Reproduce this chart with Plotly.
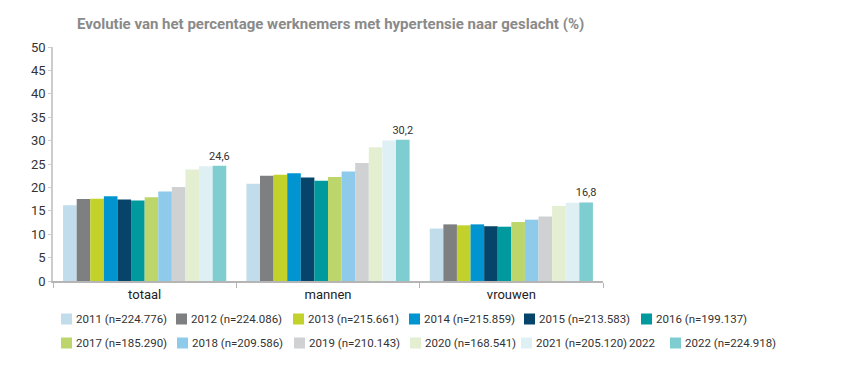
import plotly.graph_objects as go

categories = ["totaal", "mannen", "vrouwen"]
years = ["2011", "2012", "2013", "2014", "2015", "2016",
         "2017", "2018", "2019", "2020", "2021", "2022"]
legend_labels = ["2011 (n=224.776)", "2012 (n=224.086)", "2013 (n=215.661)",
                 "2014 (n=215.859)", "2015 (n=213.583)", "2016 (n=199.137)",
                 "2017 (n=185.290)", "2018 (n=209.586)", "2019 (n=210.143)",
                 "2020 (n=168.541)", "2021 (n=205.120)", "2022 (n=224.918)"]
colors = ["#c1dcea", "#7d7f81", "#c2d22b", "#0094d0", "#06446a", "#009a9e",
          "#bdd66c", "#8ecbea", "#d0d1d3", "#e3efd0", "#dff0f5", "#7ecdd0"]

v2011 = [16.2, 20.8, 11.2]
v2012 = [17.5, 22.5, 12.1]
v2013 = [17.6, 22.7, 11.9]
v2014 = [18.1, 23.0, 12.1]
v2015 = [17.4, 22.1, 11.7]
v2016 = [17.2, 21.4, 11.6]
v2017 = [17.9, 22.2, 12.6]
v2018 = [19.1, 23.4, 13.1]
v2019 = [20.1, 25.2, 13.8]
v2020 = [23.8, 28.6, 16.0]
v2021 = [24.5, 30.0, 16.7]
v2022 = [24.6, 30.2, 16.8]
series = [v2011, v2012, v2013, v2014, v2015, v2016,
          v2017, v2018, v2019, v2020, v2021, v2022]

title = "Evolutie van het percentage werknemers met hypertensie naar geslacht (%)"
stray_label = "2022"

FONT = "Roboto, Arial, sans-serif"
OFF = 8  # page body margin
W, H = 851 - OFF, 375 - OFF
ML, MT = 53 - OFF, 47 - OFF
PW, PH = 550, 234
MR = W - ML - PW
MB = H - MT - PH

fig = go.Figure()
for i, (yr, vals) in enumerate(zip(years, series)):
    last = i == len(years) - 1
    fig.add_trace(go.Bar(
        x=categories, y=vals, name=legend_labels[i],
        marker=dict(color=colors[i], line=dict(width=0)),
        text=[f"{v:.1f}".replace(".", ",") for v in vals] if last else None,
        textposition="outside" if last else None,
        constraintext="none",
        textfont=dict(family=FONT, size=11, color="#333333"),
        cliponaxis=False,
        showlegend=False,
    ))

# screen pixel -> paper coords
def px_x(px):
    return (px - OFF - ML) / PW

def px_y(py):
    return (MT + PH - (py - OFF)) / PH

shapes = []
annotations = []
row_y = [319, 343]
swatch_x = [[61, 176, 293, 409, 524, 641], [61, 177, 294, 410, 521, 670]]
for i, lab in enumerate(legend_labels):
    r, c = divmod(i, 6)
    sx = swatch_x[r][c]
    cy = row_y[r]
    shapes.append(dict(type="rect", xref="paper", yref="paper",
                       x0=px_x(sx), x1=px_x(sx + 11),
                       y0=px_y(cy + 5.5), y1=px_y(cy - 5.5),
                       fillcolor=colors[i], line=dict(width=0)))
    annotations.append(dict(xref="paper", yref="paper",
                            x=px_x(sx + 13), y=px_y(cy),
                            xanchor="left", yanchor="middle",
                            text=lab, showarrow=False,
                            font=dict(family=FONT, size=11.5, color="#333333")))
annotations.append(dict(xref="paper", yref="paper", x=px_x(627), y=px_y(343),
                        xanchor="left", yanchor="middle", text=stray_label,
                        showarrow=False,
                        font=dict(family=FONT, size=11.5, color="#333333")))
annotations.append(dict(xref="paper", yref="paper", x=px_x(75), y=px_y(24),
                        xanchor="left", yanchor="middle",
                        text="<b>" + title + "</b>", showarrow=False,
                        font=dict(family=FONT, size=15, color="#8a8a8a")))

fig.update_layout(
    width=W, height=H,
    margin=dict(l=ML, r=MR, t=MT, b=MB, pad=0),
    paper_bgcolor="white", plot_bgcolor="white",
    barmode="group", bargap=0.11, bargroupgap=0,
    showlegend=False,
    shapes=shapes, annotations=annotations,
    font=dict(family=FONT, color="#333333"),
)
fig.update_xaxes(
    showline=True, linecolor="#b5b5b5", linewidth=2,
    ticks="outside", tickson="boundaries", ticklen=5, tickcolor="#b5b5b5",
    tickfont=dict(family=FONT, size=13, color="#222222"),
    showgrid=False, zeroline=False,
)
fig.update_yaxes(
    range=[0, 50], dtick=5, tick0=0,
    showline=True, linecolor="#cccccc", linewidth=1.5,
    ticks="outside", ticklen=3, tickcolor="#cccccc",
    tickfont=dict(family=FONT, size=13, color="#333333"),
    showgrid=False, zeroline=False,
)

fig.write_html("out.html")
